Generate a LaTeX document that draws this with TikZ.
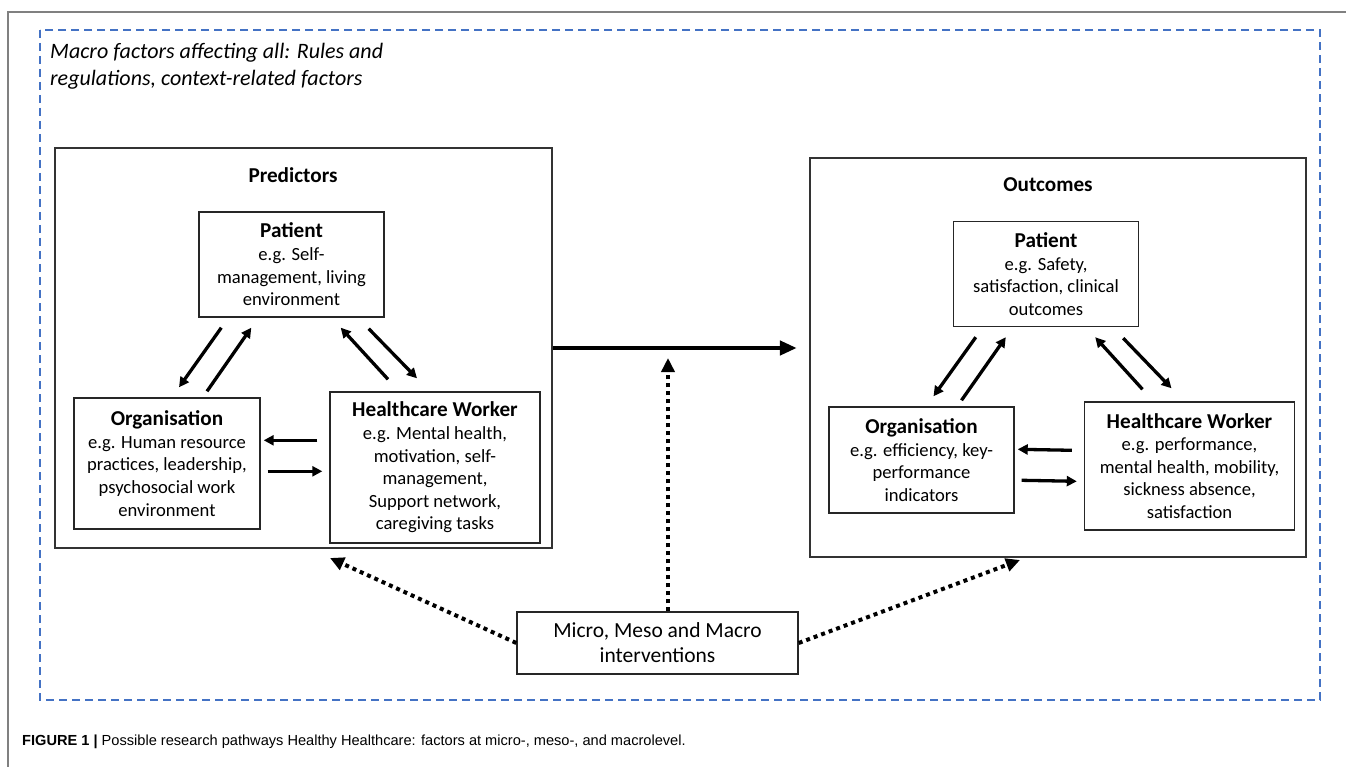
\documentclass[tikz,border=0pt]{standalone}
\usepackage{fontspec}
\setmainfont{Carlito}
\newfontfamily\capfont{Liberation Sans}
\usetikzlibrary{arrows.meta,calc}
\definecolor{macroblue}{RGB}{68,114,196}
\newcommand{\hd}[1]{{\fontsize{21.2}{24}\selectfont\bfseries #1}}

\begin{document}
\begin{tikzpicture}
	[x=1pt,y=-1pt,
	box/.style={draw=black!85,line width=1.4pt,align=center,inner sep=0pt,font=\fontsize{18.6}{22.6}\selectfont},
	frame/.style={draw=black!80,line width=1.8pt,inner sep=0pt},
	head/.style={font=\fontsize{21.2}{24}\selectfont\bfseries,inner sep=0pt},
	arr/.style={line width=3.3pt,-{Triangle[length=10pt,width=10pt]}},
	bigarr/.style={line width=4.6pt,-{Triangle[length=17pt,width=14pt]}},
	dotarr/.style={line width=4pt,dash pattern=on 4pt off 4pt,-{Triangle[length=14pt,width=13pt]}}]
	\useasboundingbox (0,0) rectangle (1346,767);
	\draw[black!50,line width=2pt] (1346,12) -- (8,12) -- (8,767);
	\draw[macroblue,line width=1.3pt,dash pattern=on 8pt off 5pt] (40,30) rectangle (1320,700);
	\node[anchor=west,align=left,inner sep=0pt,font=\fontsize{22}{27}\selectfont\itshape] (macro) at (50,66.5)
		{Macro factors affecting all: Rules and\\regulations, context-related factors};
	% predictors
	\node[frame,minimum width=497pt,minimum height=400pt] (pred) at (303.5,348) {};
	\node[head] (predt) at (293,175) {Predictors};
	\node[box,minimum width=185pt,minimum height=105pt] (patL) at (291.5,264.5)
		{\hd{Patient}\\e.g. Self-\\management, living\\environment};
	\node[box,minimum width=186pt,minimum height=131pt] (orgL) at (167,463.5)
		{\hd{Organisation}\\e.g. Human resource\\practices, leadership,\\psychosocial work\\environment};
	\node[box,minimum width=210pt,minimum height=151pt] (hwL) at (435,467.5)
		{\hd{Healthcare Worker}\\e.g. Mental health,\\motivation, self-\\management,\\Support network,\\caregiving tasks};
	% outcomes
	\node[frame,minimum width=495.5pt,minimum height=399pt] (outc) at (1058,357.5) {};
	\node[head] (outct) at (1048,185) {Outcomes};
	\node[box,minimum width=185pt,minimum height=105pt] (patR) at (1046,274)
		{\hd{Patient}\\e.g. Safety,\\satisfaction, clinical\\outcomes};
	\node[box,minimum width=185pt,minimum height=106pt] (orgR) at (921.5,460)
		{\hd{Organisation}\\e.g. efficiency, key-\\performance\\indicators};
	\node[box,minimum width=210pt,minimum height=128pt] (hwR) at (1189.5,466)
		{\hd{Healthcare Worker}\\e.g. performance,\\mental health, mobility,\\sickness absence,\\satisfaction};
	% interventions
	\node[box,minimum width=281pt,minimum height=62pt,font=\fontsize{21.5}{25}\selectfont] (iv) at (657.5,643)
		{Micro, Meso and Macro\\interventions};
	\coordinate (midtip) at (668,358);
	\coordinate (predtip) at (330,558);
	\coordinate (outctip) at (1020,560);
	\foreach \s in {L,R}{
		\draw[arr] ($(pat\s.south west)+(23,10)$) -- ($(org\s.north)+(12,-10)$);
		\draw[arr] ($(org\s.north)+(40,-6)$) -- ($(pat\s.south west)+(53,10)$);
		\draw[arr] ($(hw\s.north)+(-47,-12)$) -- ($(pat\s.south east)+(-44,10)$);
		\draw[arr] ($(pat\s.south east)+(-16,11)$) -- ($(hw\s.north)+(-18,-13)$);
		\draw[arr] ($(hw\s.north west)+(-12,49)$) -- ($(org\s.north east)+(3,43)$);
		\draw[arr] ($(org\s.north east)+(7,74)$) -- ($(hw\s.north west)+(-7,80)$);
	}
	\draw[bigarr,shorten >=12.5pt] (pred.east) -- (pred.east -| outc.west);
	\draw[dotarr] ([xshift=10.5pt]iv.north) -- (midtip);
	\draw[dotarr] (iv.west) -- (predtip);
	\draw[dotarr] (iv.east) -- (outctip);
	\node[anchor=west,inner sep=0pt,font=\capfont\fontsize{14.6}{17}\selectfont] (cap) at (22,742)
		{\textbf{FIGURE 1 |} Possible research pathways Healthy Healthcare: factors at micro-, meso-, and macrolevel.};
\end{tikzpicture}
\end{document}
